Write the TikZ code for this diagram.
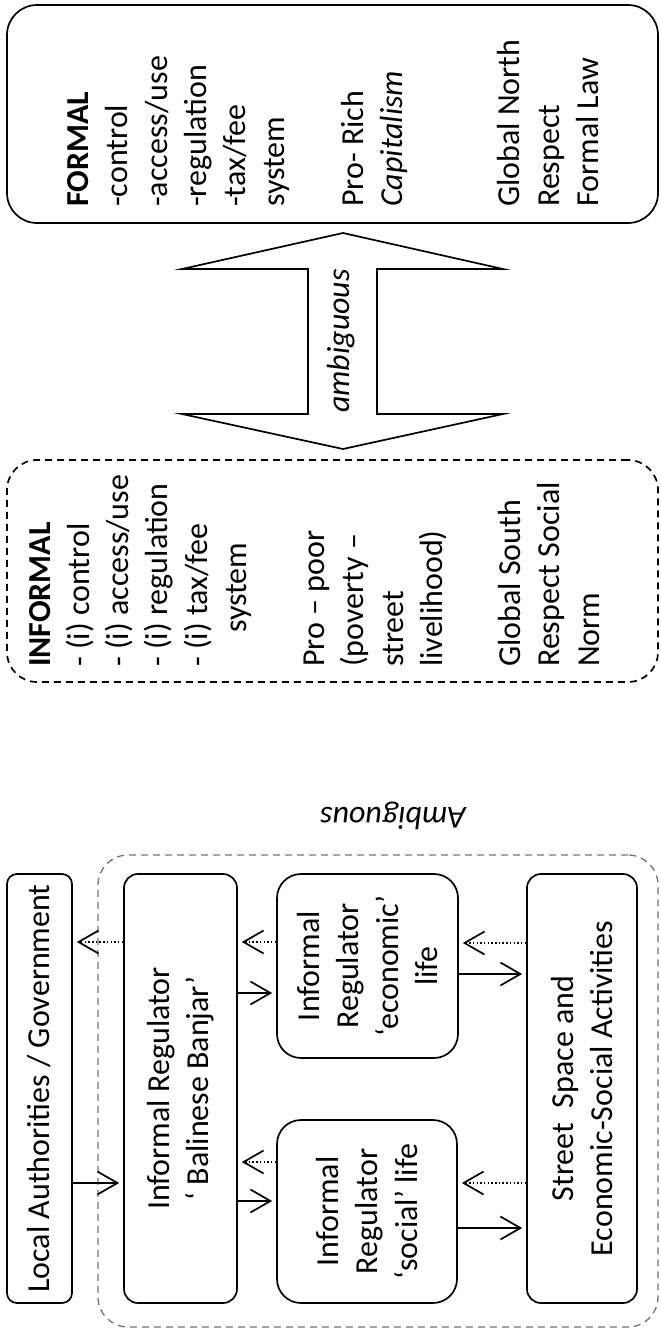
\documentclass[tikz,border=0pt]{standalone}
\usepackage{fontspec}
\setmainfont{Carlito}
\usetikzlibrary{arrows.meta,calc}
\begin{document}
\begin{tikzpicture}[x=1pt,y=-1pt,
  fnt/.style={font=\fontsize{32}{39.2}\selectfont},
  txt/.style={fnt, inner sep=0pt, rotate=90},
  box/.style={draw, line width=1.7pt, inner sep=0pt},
  arr/.style={line width=1.7pt, -{Straight Barb[length=20pt,width=23pt]}, shorten >=4pt},
  fb/.style={line width=1.6pt, dash pattern=on 1.5pt off 2.2pt, shorten >=6pt}
]
\useasboundingbox (0,0) rectangle (661,1331);

% top: formal / informal
\node[box, rounded corners=30pt, minimum width=651pt, minimum height=218pt] (formal) at (332.5,114) {};
\node[box, dash pattern=on 7pt off 5pt, rounded corners=30pt, minimum width=651pt, minimum height=222pt] (informal) at (332.5,571) {};

\node[txt, align=left, anchor=north west] (formaltxt) at (61,207) {\strut\textbf{FORMAL}\\-control\\-access/use\\-regulation\\-tax/fee\\system\\\strut\\Pro- Rich\\\textit{Capitalism}\\\strut\\\strut\\Global North\\Respect\\Formal Law};

\node[txt, align=left, anchor=north west] (informaltxt) at (22.6,667) {\strut\textbf{INFORMAL}\\- (i) control\\- (i) access/use\\- (i) regulation\\- (i) tax/fee\\\hspace*{34pt}system\\\strut\\Pro – poor\\(poverty –\\street\\livelihood)\\\strut\\Global South\\Respect Social\\Norm};

% double block arrow
\draw[line width=1.7pt, line join=miter] (343,233) -- (503,269) -- (377,269) -- (377,414) -- (503,414) -- (343,449) -- (182,414) -- (308,414) -- (308,269) -- (182,269) -- cycle;
\node[txt, font={\fontsize{32}{39.2}\selectfont\itshape}] (amb) at (341,341) {ambiguous};

% bottom diagram
\node[inner sep=0pt, rotate=180, font={\fontsize{32}{39.2}\selectfont\itshape}] (amb2) at (393,816) {Ambiguous};
\node[draw=black!55, line width=1.3pt, dash pattern=on 7pt off 5pt, rounded corners=30pt, inner sep=0pt, minimum width=560pt, minimum height=472pt] (outer) at (378,1091) {};

\node[box, rounded corners=10pt, minimum width=65pt, minimum height=429pt] (local) at (39.5,1088.5) {};
\node[box, rounded corners=14pt, minimum width=113pt, minimum height=429pt] (banjar) at (180.5,1088.5) {};
\node[box, rounded corners=24pt, minimum width=181pt, minimum height=184pt] (econ) at (367.5,966) {};
\node[box, rounded corners=24pt, minimum width=180pt, minimum height=183pt] (social) at (367,1211.5) {};
\node[box, rounded corners=14pt, minimum width=110pt, minimum height=429pt] (street) at (582,1088.5) {};

\node[txt] (localtxt) at (local.center) {Local Authorities / Government};
\node[txt, align=center] (banjartxt) at (banjar.center) {Informal Regulator\\‘ Balinese Banjar’};
\node[txt, align=center] (econtxt) at (econ.center) {Informal\\Regulator\\‘economic’\\life};
\node[txt, align=center] (socialtxt) at (social.center) {Informal\\Regulator\\‘social’ life};
\node[txt, align=center] (streettxt) at (street.center) {Street~~Space and\\Economic-Social Activities};

% solid arrows
\draw[arr] (local.east |- 0,1183) -- (banjar.west |- 0,1183);
\draw[arr] (banjar.east |- 0,993) -- (econ.west |- 0,993);
\draw[arr] (banjar.east |- 0,1201) -- (social.west |- 0,1201);
\draw[arr] (econ.east |- 0,974) -- (street.west |- 0,974);
\draw[arr] (social.east |- 0,1228) -- (street.west |- 0,1228);

% dotted feedback arrows (solid heads)
\foreach \a/\b/\y in {banjar.west/local.east/942, econ.west/banjar.east/942, social.west/banjar.east/1162, street.west/econ.east/943, street.west/social.east/1183}{
  \draw[fb] (\a |- 0,\y) -- (\b |- 0,\y);
  \draw[arr] ($(\b |- 0,\y)!7pt!(\a |- 0,\y)$) -- (\b |- 0,\y);
}
\end{tikzpicture}
\end{document}
